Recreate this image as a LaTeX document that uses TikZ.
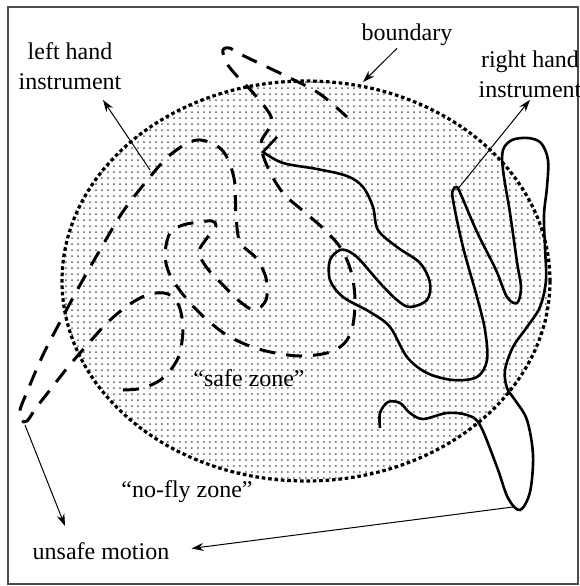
\documentclass[tikz,border=0pt]{standalone}
\usepackage{fontspec}
\setmainfont{Liberation Serif}
\usetikzlibrary{arrows.meta,patterns}

\begin{document}
\begin{tikzpicture}[x=0.5pt, y=-0.5pt,
  tag/.style={font=\fontsize{12}{15}\selectfont, align=center, inner sep=1pt},
  pointer/.style={line width=0.5pt, -{Stealth[length=6pt,width=4pt]}},
  lefttool/.style={line width=1.5pt, dash pattern=on 8pt off 5.5pt},
  righttool/.style={line width=1.3pt},
  zone/.style={line width=1.6pt, dash pattern=on 1.8pt off 1.4pt}]
  \useasboundingbox (0,0) rectangle (580,586);
  % Frame round the figure
  \draw[black!70, line width=0.8pt] (8,7) rectangle (578,584);

  % Safe zone: dotted boundary, filled with dots
  \fill[pattern=dots, pattern color=black!65]
    (306,281) ellipse [x radius=244, y radius=200];
  \draw[zone] (306,281) ellipse [x radius=244, y radius=200];

  % Left hand instrument: one dashed path
  \draw[lefttool] plot[smooth, tension=0.55] coordinates {
    (123,390) (143,388) (163,378) (178,358) (183,330) (179,306) (168,294) (150,294)
    (130,304) (108,322) (88,344) (68,367) (50,390) (36,408) (27,421) (21,420) (20,410)
    (27,392) (42,357) (60,322) (80,285) (100,250) (122,213) (145,183) (170,155) (197,140)
    (222,150) (234,178) (236,215) (240,242) (256,258) (266,278) (266,300) (254,310)
    (238,300) (222,284) (207,268) (199,252) (207,238) (216,226) (212,221) (200,222)
    (183,225) (170,233) (165,255) (170,275) (185,297) (205,318) (230,337) (262,350)
    (300,356) (333,351) (350,335) (355,305) (352,275) (342,250) (325,230) (302,210)
    (283,193) (268,168) (261,143) (272,120) (255,95) (236,75) (226,62) (223,50)
    (230,48) (240,54) (290,78) (320,94) (347,117)};

  % Right hand instrument: one solid path
  \draw[righttool] (277,137) -- plot[smooth, tension=0.55] coordinates {
    (263,152) (283,163) (317,169) (347,176) (363,187) (373,207) (378,230) (397,247)
    (420,263) (430,283) (427,300) (410,307) (397,300) (380,283) (360,260) (350,252)
    (340,250) (330,260) (330,280) (343,297) (370,312) (390,327) (407,357) (427,373)
    (453,380) (477,377) (487,360) (485,330) (477,297) (463,247) (453,200) (453,190)
    (457,187) (462,197) (477,232) (496,270) (507,297) (517,303) (521,288) (517,262)
    (510,213) (503,170) (503,150) (512,140) (528,138) (541,143) (548,160) (547,187)
    (544,215) (545,248) (546,280) (540,307) (527,327) (513,347) (505,370) (507,388)
    (515,400) (527,420) (533,455) (530,492) (520,510) (508,498) (497,467) (480,425)
    (467,415) (447,413) (423,419) (410,413) (400,403) (388,402) (380,413) (380,428)};

  % Labels
  \node[tag] (lhlab) at (70,66) {left hand\\instrument};
  \node[tag] (rhlab) at (530,74) {right hand\\instrument};
  \node[tag] (bndlab) at (407,35) {boundary};
  \node[tag] (safelab) at (249,378) {“safe zone”};
  \node[tag] (noflylab) at (187,492) {“no-fly zone”};
  \node[tag] (unsafelab) at (101,551) {unsafe motion};

  % Points on the curves that the arrows start from
  \coordinate (lhpt) at (150,170);
  \coordinate (rhpt) at (457,190);
  \coordinate (bndpt) at (363,82);
  \coordinate (exitL) at (25,425);
  \coordinate (exitR) at (513,507);

  % Arrows
  \draw[pointer] (lhpt) -- ([xshift=16.5pt,yshift=-4pt]lhlab.south);
  \draw[pointer] (rhpt) -- (rhlab.south);
  \draw[pointer] ([xshift=-5pt]bndlab.south) -- (bndpt);
  \draw[pointer] (exitL) -- ([xshift=-18pt,yshift=7pt]unsafelab.north);
  \draw[pointer, shorten >=10pt] (exitR) -- (unsafelab.east);
\end{tikzpicture}
\end{document}
